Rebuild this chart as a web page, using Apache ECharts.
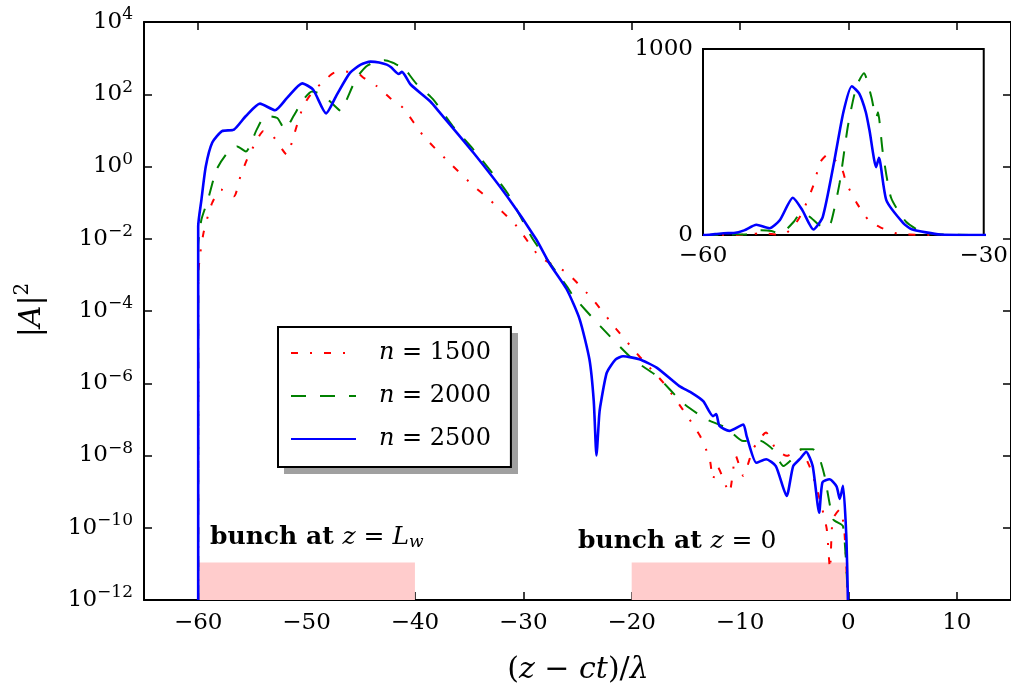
<!DOCTYPE html>
<html><head><meta charset="utf-8">
<script src="https://cdn.jsdelivr.net/npm/echarts@6/dist/echarts.min.js"></script>
<style>html,body{margin:0;padding:0;background:#fff}#c{width:1011px;height:695px}</style>
</head><body><div id="c"></div>
<script>
// ---------------- data ----------------
const seriesNames = ['n = 1500', 'n = 2000', 'n = 2500'];
const seriesColors = ['#ff0000', '#008000', '#0000ff'];

const x1500 = [-60, -60, -59.8, -59.5, -59.1, -58.7, -57.9, -56.7, -56.1, -55.5, -54.7, -54.0, -53.1, -51.8, -51.2, -50.3, -49.4, -48.1, -47.5, -46.6, -45.1, -44.7, -43.5, -42.3, -41.1, -39.2, -36.8, -34.6, -33.1, -30.6, -28.5, -26.0, -23.6, -21.4, -19.3, -17.1, -15.3, -13.7, -12.8, -12.5, -12.1, -11.0, -10.4, -9.7, -8.8, -7.6, -6.7, -5.7, -4.5, -3.6, -3.0, -2.4, -2.0, -1.7, -1.45, -0.8, -0.4, -0.05];
const y1500 = [1e-12, 9.3e-4, 4.1e-3, 1.5e-2, 4.3e-2, 0.1, 0.23, 0.15, 0.54, 1.55, 4.6, 9.5, 6.9, 2.1, 6.9, 47, 120, 280, 390, 436, 347, 280, 166, 79, 42, 6.9, 1.26, 0.29, 0.12, 2.2e-2, 3.2e-3, 1.15e-3, 2.1e-4, 3.1e-5, 5.6e-6, 1.05e-6, 1.9e-7, 3.5e-8, 7.9e-9, 2.2e-9, 5.0e-9, 9.3e-10, 9.8e-9, 2.7e-9, 1.5e-8, 4.3e-8, 1.5e-8, 9.8e-9, 1.5e-8, 5.1e-9, 1.45e-9, 3.2e-10, 9.1e-11, 7.1e-12, 1.7e-10, 3.2e-10, 1.0e-10, 1e-12];

const x2000 = [-60, -60, -59.7, -59.1, -58.3, -57.3, -56.4, -55.6, -54.6, -53.8, -52.7, -52.0, -51.2, -50.3, -49.5, -48.6, -47.7, -46.8, -46.3, -45.4, -44.5, -43.6, -42.8, -42.0, -41.5, -41.3, -40.8, -39.9, -38.3, -36.5, -34.6, -31.5, -29.1, -26.0, -25.4, -22.9, -19.9, -17.7, -15.3, -13.1, -11.3, -9.7, -8.2, -7.0, -6.0, -5.2, -4.35, -3.3, -2.7, -2.2, -1.4, -0.5, -0.05];
const y2000 = [1e-12, 6.3e-3, 3.4e-2, 0.12, 0.83, 2.4, 3.6, 2.6, 10.5, 25, 22, 10.5, 25, 71, 120, 98, 58, 34, 71, 280, 590, 800, 870, 740, 630, 660, 450, 200, 71, 13, 2.95, 0.19, 9.5e-3, 4.9e-4, 2.6e-4, 3.8e-5, 4.6e-6, 1.6e-6, 2.9e-7, 1.0e-7, 5.9e-8, 2.5e-8, 2.6e-8, 1.5e-8, 5.1e-9, 7.9e-9, 1.5e-8, 1.5e-8, 8.9e-9, 2.7e-9, 1.7e-10, 1.1e-10, 1e-12];

const x2500 = [-60, -60, -59.7, -59.3, -58.7, -57.8, -56.7, -55.6, -54.3, -52.9, -51.8, -50.4, -49.4, -48.2, -47.2, -46.0, -45.0, -44.1, -43.3, -42.6, -42.2, -41.5, -41.2, -40.4, -38.6, -37.7, -34.6, -31.5, -28.8, -27.6, -26.0, -24.8, -23.9, -23.5, -23.25, -23.0, -22.9, -22.3, -21.5, -20.8, -19.3, -17.7, -15.6, -14.5, -13.4, -12.5, -12.2, -11.9, -11.0, -9.7, -9.4, -8.5, -7.6, -6.7, -5.7, -5.1, -4.5, -3.9, -3.3, -2.7, -2.4, -1.75, -1.1, -0.8, -0.5, -0.2, -0.05];
const y2500 = [1e-12, 2.2e-2, 0.12, 1.0, 4.6, 9.5, 10.5, 25, 55, 36, 79, 200, 135, 29.5, 98, 390, 660, 800, 760, 660, 560, 365, 415, 186, 64, 31, 2.4, 0.15, 9.5e-3, 2.1e-3, 4.0e-4, 5.9e-5, 4.6e-6, 3.2e-7, 1.0e-8, 1.26e-7, 2.3e-7, 1.95e-6, 4.5e-6, 5.6e-6, 4.6e-6, 2.7e-6, 8.3e-7, 5.5e-7, 3.2e-7, 1.23e-7, 1.4e-7, 6.6e-8, 4.8e-8, 7.2e-8, 3.5e-8, 6.3e-9, 7.9e-9, 5.1e-9, 7.6e-10, 5.1e-9, 7.9e-9, 1.26e-8, 5.1e-9, 2.6e-10, 1.8e-9, 2.2e-9, 1.4e-9, 6.3e-10, 1.45e-9, 6.3e-11, 1e-12];

// bunch regions (x ranges) and the top of the shaded band
const bunchRanges = [[-60, -40], [-20, 0]];
const bunchTop = 1.1e-11;

// axis ranges
const mainX = [-65, 15];
const mainY = [1e-12, 1e4];
const insetX = [-60, -30];
const insetY = [0, 1000];

// ---------------- chart ----------------
const F = "'DejaVu Serif', serif";
const fmtNum = v => (v < 0 ? '\u2212' + Math.abs(v) : String(v));
const pairs = (xs, ys) => xs.map((x, i) => [x, ys[i]]);
const allX = [x1500, x2000, x2500];
const allY = [y1500, y2000, y2500];
const widths = [2, 2, 2.6];
const dashes = [[7, 12, 2, 12], [15, 14], 'solid'];

const chart = echarts.init(document.getElementById('c'), null, {renderer: 'canvas'});

const series = [];
series.push({
  name: 'bunch', type: 'line', xAxisIndex: 0, yAxisIndex: 0, data: [], z: 1,
  markArea: {
    silent: true,
    itemStyle: {color: '#ffcccc'},
    data: bunchRanges.map(r => [{xAxis: r[0], yAxis: mainY[0]}, {xAxis: r[1], yAxis: bunchTop}])
  }
});
for (let k = 0; k < 3; k++) {
  const common = {
    name: seriesNames[k], type: 'line', symbol: 'none', showSymbol: false,
    smooth: 0.2, animation: false, z: 3,
    itemStyle: {color: seriesColors[k]},
    lineStyle: {color: seriesColors[k], width: widths[k], type: dashes[k]},
    data: pairs(allX[k], allY[k])
  };
  series.push(Object.assign({}, common, {xAxisIndex: 0, yAxisIndex: 0}));
  series.push(Object.assign({}, common, {xAxisIndex: 2, yAxisIndex: 2, z: 4}));
}

const axLine = {show: true, onZero: false, lineStyle: {color: '#000', width: 2}};
const axTick = {show: true, inside: true, length: 8, lineStyle: {color: '#000', width: 1.5}};
const labelFont = {fontFamily: F, fontSize: 23, color: '#000'};

const supRich = {
  base: {fontFamily: F, fontSize: 23, color: '#000'},
  sup: {fontFamily: F, fontSize: 17, color: '#000', padding: [0, 0, 14, 0]}
};

chart.setOption({
  animation: false,
  backgroundColor: '#fff',
  grid: [
    {left: 144, top: 22, width: 867, height: 578, show: false},
    {left: 703, top: 49, width: 281, height: 186, show: true, borderColor: '#000', borderWidth: 2, backgroundColor: '#fff'}
  ],
  xAxis: [
    {type: 'value', gridIndex: 0, position: 'bottom', min: mainX[0], max: mainX[1], splitNumber: 8,
     axisLine: axLine, axisTick: axTick, splitLine: {show: false},
     axisLabel: Object.assign({margin: 12, showMinLabel: false, showMaxLabel: false,
       formatter: v => (v % 10 === 0 ? fmtNum(v) : '')}, labelFont)},
    {type: 'value', gridIndex: 0, position: 'top', min: mainX[0], max: mainX[1], splitNumber: 8,
     axisLine: axLine, axisTick: axTick, splitLine: {show: false}, axisLabel: {show: false}},
    {type: 'value', gridIndex: 1, min: insetX[0], max: insetX[1], interval: 30,
     axisLine: {show: false, onZero: false}, axisTick: {show: false}, splitLine: {show: false},
     axisLabel: Object.assign({margin: 10, formatter: fmtNum}, labelFont)}
  ],
  yAxis: [
    {type: 'log', logBase: 10, gridIndex: 0, position: 'left', min: mainY[0], max: mainY[1], interval: 2,
     axisLine: axLine, axisTick: axTick, splitLine: {show: false}, minorTick: {show: false},
     axisLabel: {margin: 11, fontFamily: F, fontSize: 23, color: '#000', rich: supRich,
       formatter: v => {
         const e = Math.round(Math.log10(v));
         return '{base|10}{sup|' + fmtNum(e) + '}';
       }}},
    {type: 'log', logBase: 10, gridIndex: 0, position: 'right', min: mainY[0], max: mainY[1], interval: 2,
     axisLine: axLine, axisTick: axTick, splitLine: {show: false}, axisLabel: {show: false}},
    {type: 'value', gridIndex: 1, min: insetY[0], max: insetY[1], interval: 1000,
     axisLine: {show: false, onZero: false}, axisTick: {show: false}, splitLine: {show: false},
     axisLabel: Object.assign({margin: 10, formatter: v => String(v)}, labelFont)}
  ],
  legend: {
    data: seriesNames, orient: 'vertical', left: 278, top: 327, z: 6,
    itemWidth: 65, itemHeight: 14, itemGap: 15,
    padding: [12, 20, 14, 12],
    backgroundColor: '#fff', borderColor: '#000', borderWidth: 2,
    selectedMode: false,
    itemStyle: {opacity: 0},
    textStyle: {fontFamily: F, fontSize: 24, color: '#000', lineHeight: 28, padding: [0, 0, 0, 18],
      rich: {
        i: {fontFamily: F, fontSize: 24, fontStyle: 'italic', color: '#000', lineHeight: 28},
        r: {fontFamily: F, fontSize: 24, color: '#000', lineHeight: 28}
      }},
    formatter: name => '{i|n}{r|' + name.slice(1) + '}'
  },
  graphic: [
    // legend drop shadow
    {type: 'rect', z: 2, shape: {x: 284, y: 333, width: 234, height: 141}, style: {fill: '#a0a0a0'}},
    {type: 'text', x: 32, y: 310, rotation: Math.PI / 2, z: 10,
     style: {text: '{r||}{i|A}{r||}{s|2}', align: 'center', verticalAlign: 'middle',
       rich: {
         r: {fontFamily: F, fontSize: 30, fill: '#000'},
         i: {fontFamily: F, fontSize: 30, fontStyle: 'italic', fill: '#000'},
         s: {fontFamily: F, fontSize: 20, fill: '#000', padding: [0, 0, 18, 0]}
       }}},
    {type: 'text', x: 578, y: 670, z: 10,
     style: {text: '{r|(}{i|z}{r| \u2212 }{i|ct}{r|)/}{i|\u03bb}', align: 'center', verticalAlign: 'middle',
       rich: {
         r: {fontFamily: F, fontSize: 30, fill: '#000'},
         i: {fontFamily: F, fontSize: 30, fontStyle: 'italic', fill: '#000'}
       }}},
    {type: 'text', x: 210, y: 537, z: 10,
     style: {text: '{b|bunch at }{i|z}{r| = }{i|L}{s|w}', align: 'left', verticalAlign: 'middle',
       rich: {
         b: {fontFamily: F, fontSize: 25, fontWeight: 'bold', fill: '#000'},
         r: {fontFamily: F, fontSize: 25, fill: '#000'},
         i: {fontFamily: F, fontSize: 25, fontStyle: 'italic', fill: '#000'},
         s: {fontFamily: F, fontSize: 17, fontStyle: 'italic', fill: '#000', padding: [12, 0, 0, 0]}
       }}},
    {type: 'text', x: 578, y: 541, z: 10,
     style: {text: '{b|bunch at }{i|z}{r| = 0}', align: 'left', verticalAlign: 'middle',
       rich: {
         b: {fontFamily: F, fontSize: 25, fontWeight: 'bold', fill: '#000'},
         r: {fontFamily: F, fontSize: 25, fill: '#000'},
         i: {fontFamily: F, fontSize: 25, fontStyle: 'italic', fill: '#000'}
       }}}
  ],
  series: series
});
</script>
</body></html>
